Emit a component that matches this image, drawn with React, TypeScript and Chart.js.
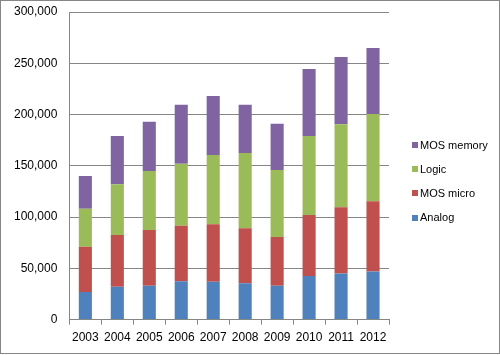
import React, { useEffect, useRef } from "react";
import { Chart, registerables } from "chart.js";

Chart.register(...registerables);

const years = ["2003", "2004", "2005", "2006", "2007", "2008", "2009", "2010", "2011", "2012"];
const analog = [27000, 32000, 33000, 37500, 37000, 35500, 33000, 42500, 45000, 47000];
const mosMicro = [44000, 50500, 54500, 54000, 56000, 53500, 47500, 59500, 64500, 68500];
const logic = [37000, 49500, 57500, 60500, 67500, 73500, 65500, 77000, 81000, 85000];
const mosMemory = [32000, 47000, 48000, 57500, 57500, 47000, 45000, 65500, 65500, 64500];
const yTicks = [0, 50000, 100000, 150000, 200000, 250000, 300000];

const FONT = "'Liberation Sans', Arial, sans-serif";
const GRID = "#868686";

const frameAndLegend = {
  id: "frameAndLegend",
  afterDraw(chart: any) {
    const ctx = chart.ctx;
    ctx.save();
    ctx.strokeStyle = GRID;
    ctx.lineWidth = 1;
    ctx.strokeRect(0.5, 0.5, 499, 353);
    const ds = chart.data.datasets.slice().reverse();
    const startY = 145;
    const step = 24.2;
    ctx.font = "11px " + FONT;
    ctx.textBaseline = "middle";
    ctx.textAlign = "left";
    ds.forEach((d: any, i: number) => {
      const cy = startY + i * step;
      ctx.fillStyle = d.backgroundColor;
      ctx.fillRect(412, Math.round(cy - 3), 6, 6);
      ctx.fillStyle = "#000";
      ctx.fillText(d.label, 420, cy + 0.5);
    });
    ctx.restore();
  },
};

export default function App() {
  const ref = useRef<HTMLCanvasElement>(null);
  useEffect(() => {
    if (!ref.current) return;
    const chart = new Chart(ref.current, {
      type: "bar",
      data: {
        labels: years,
        datasets: [
          { label: "Analog", data: analog, backgroundColor: "#4F81BD" },
          { label: "MOS micro", data: mosMicro, backgroundColor: "#C0504D" },
          { label: "Logic", data: logic, backgroundColor: "#9BBB59" },
          { label: "MOS memory", data: mosMemory, backgroundColor: "#8064A2" },
        ],
      },
      options: {
        responsive: false,
        animation: false,
        layout: { autoPadding: false, padding: { left: 2, right: 111, top: 12, bottom: 4 } },
        datasets: { bar: { categoryPercentage: 1, barPercentage: 0.41, borderWidth: 0 } },
        plugins: { legend: { display: false }, tooltip: { enabled: false } },
        scales: {
          x: {
            stacked: true,
            grid: { display: true, drawOnChartArea: false, drawTicks: true, tickLength: 5, color: GRID, offset: true },
            border: { display: true, color: GRID },
            ticks: { color: "#000", font: { family: FONT, size: 12 }, padding: 6, maxRotation: 0, autoSkip: false },
          },
          y: {
            stacked: true,
            min: 0,
            max: 300000,
            afterBuildTicks: (axis: any) => {
              axis.ticks = yTicks.map((v) => ({ value: v }));
            },
            afterFit: (axis: any) => {
              axis.paddingTop = 0;
              axis.paddingBottom = 0;
            },
            grid: { color: GRID, drawTicks: false },
            border: { display: true, color: GRID },
            ticks: {
              color: "#000",
              font: { family: FONT, size: 12 },
              padding: 12,
              callback: (v: any) => Number(v).toLocaleString("en-US"),
            },
          },
        },
      },
      plugins: [frameAndLegend],
    });
    return () => chart.destroy();
  }, []);
  return (
    <div style={{ position: "fixed", left: 0, top: 0, width: 500, height: 355, background: "#fff" }}>
      <canvas ref={ref} width={500} height={355} style={{ display: "block" }} />
    </div>
  );
}
